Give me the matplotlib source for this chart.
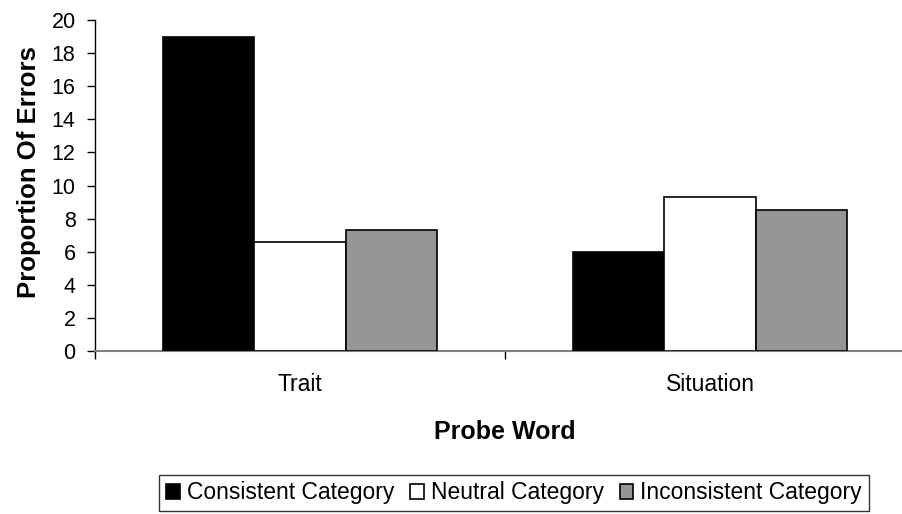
import matplotlib.pyplot as plt
import numpy as np

plt.rcParams['font.family'] = ['Liberation Sans', 'DejaVu Sans']

# values
probes = ['Trait', 'Situation']
series = ['Consistent Category', 'Neutral Category', 'Inconsistent Category']
consistent = [19.0, 6.0]
neutral = [6.6, 9.3]
inconsistent = [7.3, 8.5]
colors = ['black', 'white', '#969696']

fig = plt.figure(figsize=(9.03, 5.14), dpi=100)
ax = fig.add_axes([95 / 903, 163 / 514, 820 / 903, 331 / 514])

x = np.arange(len(probes))
w = 0.222
for i, (vals, c, lab) in enumerate(zip([consistent, neutral, inconsistent], colors, series)):
    ax.bar(x + (i - 1) * w, vals, w, color=c, edgecolor='black', linewidth=1.2, label=lab, zorder=3)

ax.set_xlim(-0.5, 1.5)
ax.set_ylim(0, 20)
ax.set_yticks(range(0, 21, 2))
ax.set_xticks([-0.5, 0.5, 1.5])
ax.set_xticklabels([])
ax.set_xticks(x, minor=True)
ax.set_xticklabels(probes, minor=True)
ax.tick_params(axis='x', which='minor', length=0, pad=16, labelsize=16.5)
ax.tick_params(axis='x', which='major', length=6, width=1, color='black', direction='out')
ax.tick_params(axis='y', length=6, width=1, direction='out', labelsize=15.5, pad=8)

for s in ['top', 'right']:
    ax.spines[s].set_visible(False)
ax.spines['left'].set_linewidth(1)
ax.spines['bottom'].set_color('#808080')
ax.spines['bottom'].set_linewidth(1.5)

ax.set_ylabel('Proportion Of Errors', fontsize=18.5, fontweight='bold', va='center')
ax.yaxis.set_label_coords(-66 / 820, 0.54)
ax.set_xlabel('Probe Word', fontsize=18, fontweight='bold', va='center')
ax.xaxis.set_label_coords(410 / 820, -81 / 331)

leg = fig.legend(loc='center', bbox_to_anchor=(514 / 903, 1 - 493 / 514), ncol=3,
                 fontsize=16.5, frameon=True, fancybox=False, edgecolor='black',
                 handlelength=0.6, handleheight=0.6, handletextpad=0.3, columnspacing=0.7,
                 borderpad=0.3, borderaxespad=0)
leg.get_frame().set_linewidth(1)

fig.savefig('out.png', dpi=100)
